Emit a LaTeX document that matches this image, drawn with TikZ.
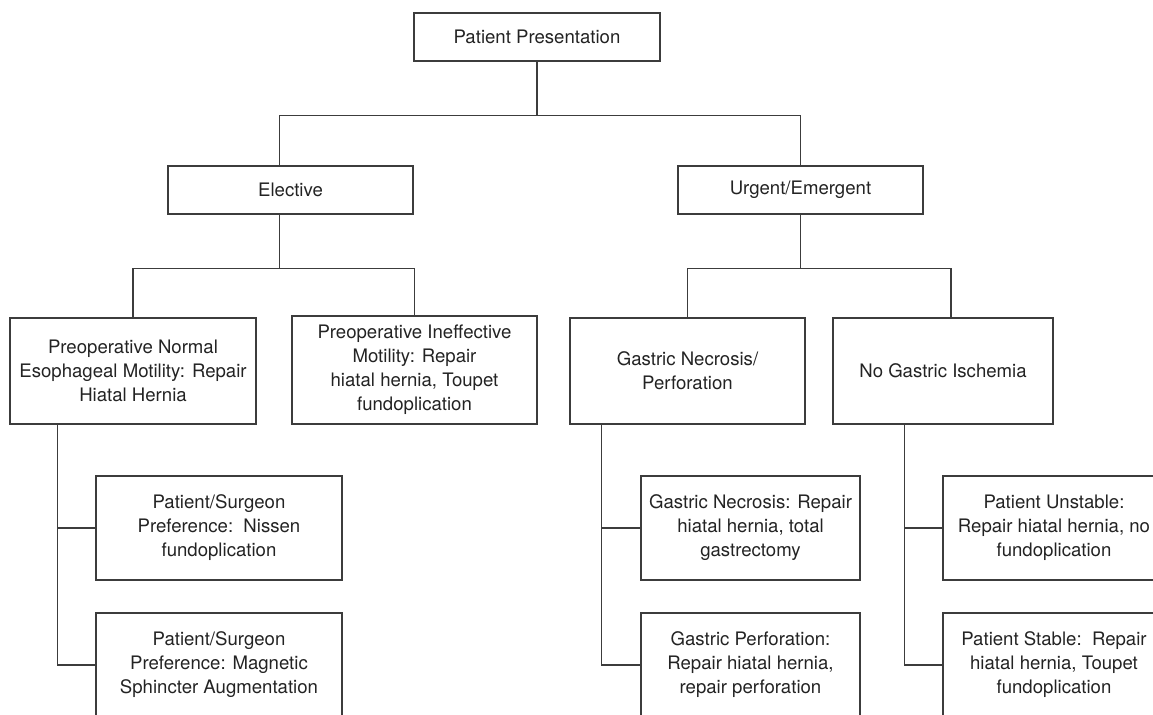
\documentclass[tikz,border=0pt]{standalone}
\usepackage{fontspec}
\setmainfont{TeX Gyre Heros}
\usepackage{xcolor}
\definecolor{linegray}{RGB}{60, 60, 60}
\definecolor{textgray}{RGB}{35, 35, 35}

\begin{document}
\begin{tikzpicture}[x=0.5pt, y=-0.5pt,
        box/.style={draw=linegray, line width=0.6pt, align=center, inner sep=2pt, text=textgray, font=\fontsize{9.3}{12}\selectfont},
        link/.style={draw=linegray, line width=0.6pt}]
        \clip (0,0) rectangle (1153,715);

        % Root
        \node[box, minimum width=123pt, minimum height=24pt] (pp) at (537,37) {Patient Presentation};

        % Setting
        \node[box, minimum width=122.5pt, minimum height=24pt] (elective) at (290.5,190) {Elective};
        \node[box, minimum width=122.5pt, minimum height=24pt] (urgent) at (800.5,190) {Urgent/Emergent};

        % Elective branch
        \node[box, minimum width=123pt, minimum height=53pt] (normal) at (133,371) {Preoperative Normal\\Esophageal Motility: Repair\\Hiatal Hernia};
        \node[box, minimum width=122.5pt, minimum height=54pt] (ineffective) at (414.5,370) {Preoperative Ineffective\\Motility: Repair\\hiatal hernia, Toupet\\fundoplication};

        % Urgent branch
        \node[box, minimum width=117.5pt, minimum height=53pt] (necrosis) at (687.5,371) {Gastric Necrosis/\\Perforation};
        \node[box, minimum width=110pt, minimum height=53pt] (noisch) at (943,371) {No Gastric Ischemia};

        % Procedures
        \node[box, minimum width=123pt, minimum height=52pt] (nissen) at (219,528) {Patient/Surgeon\\Preference:\ \ Nissen\\fundoplication};
        \node[box, minimum width=123pt, minimum height=52pt] (magnetic) at (219,665) {Patient/Surgeon\\Preference: Magnetic\\Sphincter Augmentation};
        \node[box, minimum width=109.5pt, minimum height=52pt] (gnecrosis) at (750.5,528) {Gastric Necrosis: Repair\\hiatal hernia, total\\gastrectomy};
        \node[box, minimum width=109.5pt, minimum height=52pt] (gperf) at (750.5,665) {Gastric Perforation:\\Repair hiatal hernia,\\repair perforation};
        \node[box, minimum width=111pt, minimum height=52pt] (unstable) at (1054,528) {Patient Unstable:\\Repair hiatal hernia, no\\fundoplication};
        \node[box, minimum width=111pt, minimum height=52pt] (stable) at (1054,665) {Patient Stable:\ \ Repair\\hiatal hernia, Toupet\\fundoplication};

        % Connectors, upper levels
        \draw[link] (pp.south) -- ++(0,-27pt) coordinate (bus1);
        \draw[link] ([xshift=-5.5pt]elective.north) |- (bus1) -| (urgent.north);
        \draw[link] ([xshift=-5.5pt]elective.south) -- ++(0,-27pt) coordinate (bus2);
        \draw[link] (normal.north) |- (bus2) -| (ineffective.north);
        \draw[link] (urgent.south) -- ++(0,-27pt) coordinate (bus3);
        \draw[link] (necrosis.north) |- (bus3) -| ([xshift=4pt]noisch.north);

        % Connectors, procedures
        \coordinate (trunkA) at ([xshift=-19pt]nissen.west);
        \draw[link] (trunkA |- normal.south) |- (magnetic.west);
        \draw[link] (trunkA) -- (nissen.west);
        \coordinate (trunkB) at ([xshift=-19.5pt]gnecrosis.west);
        \draw[link] (trunkB |- necrosis.south) |- (gperf.west);
        \draw[link] (trunkB) -- (gnecrosis.west);
        \coordinate (trunkC) at ([xshift=-19pt]unstable.west);
        \draw[link] (trunkC |- noisch.south) |- (stable.west);
        \draw[link] (trunkC) -- (unstable.west);
\end{tikzpicture}
\end{document}
